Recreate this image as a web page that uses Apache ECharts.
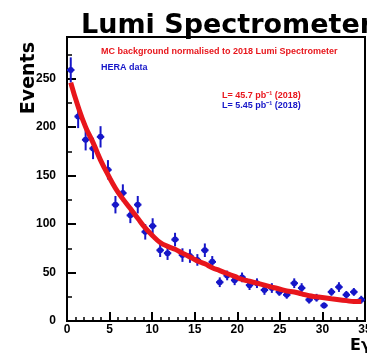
<!DOCTYPE html>
<html>
<head>
<meta charset="utf-8">
<script src="https://cdn.jsdelivr.net/npm/echarts@6/dist/echarts.min.js"></script>
<style>
  html, body { margin: 0; padding: 0; background: #fff; }
  #chart { width: 367px; height: 357px; }
</style>
</head>
<body>
<div id="chart"></div>
<script>
// bin centres (x) of the measured spectrum
const binCenters = [0.44, 1.31, 2.19, 3.06, 3.94, 4.81, 5.69, 6.56, 7.44, 8.31,
  9.19, 10.06, 10.94, 11.81, 12.69, 13.56, 14.44, 15.31, 16.19, 17.06,
  17.94, 18.81, 19.69, 20.56, 21.44, 22.31, 23.19, 24.06, 24.94, 25.81,
  26.69, 27.56, 28.44, 29.31, 30.19, 31.06, 31.94, 32.81, 33.69, 34.56];
const binHalfWidth = 0.4375;

// data (blue points) and their errors
const dataCounts = [259, 211, 187, 178, 190, 156, 120, 132, 109, 120,
  92, 98, 73, 70, 84, 68, 67, 63, 73, 61,
  40, 47, 42, 45, 37, 39, 32, 34, 30, 27,
  39, 34, 22, 24, 16, 30, 35, 27, 30, 22];
const dataErrors = [13, 12, 11, 11, 11, 10, 9, 9, 8, 9,
  8, 8, 7, 7, 7, 7, 7, 6, 7, 6,
  5, 5, 5, 5, 5, 5, 5, 5, 4, 4,
  5, 5, 4, 4, 3, 4, 5, 4, 4, 4];

// MC (red curve)
const mcCounts = [246, 221, 200, 184, 166, 151, 137, 126, 116, 106,
  96, 88, 81, 77, 74, 70, 66, 62, 59, 55,
  52, 49, 46, 43, 41, 39, 37, 35, 33, 31,
  30, 28, 26, 25, 24, 23, 22, 21, 20, 20];

const titleText = "Lumi Spectrometer";
const legendMc = "MC background normalised to 2018 Lumi Spectrometer";
const legendData = "HERA data";
const lumiMc = "L= 45.7 pb\u207B\u00B9 (2018)";
const lumiData = "L= 5.45 pb\u207B\u00B9 (2018)";
const xName = "E\u03B3";
const yName = "Events";

const RED = "#e8161c";
const BLUE = "#1616c8";

const chart = echarts.init(document.getElementById("chart"), null, { renderer: "canvas" });

function renderErrors(params, api) {
  const x = api.value(0), y = api.value(1), e = api.value(2);
  const c = api.coord([x, y]);
  const lo = api.coord([x, y - e]);
  const hi = api.coord([x, y + e]);
  const l = api.coord([x - binHalfWidth, y]);
  const r = api.coord([x + binHalfWidth, y]);
  return {
    type: "group",
    children: [
      { type: "line", shape: { x1: lo[0], y1: lo[1], x2: hi[0], y2: hi[1] }, style: { stroke: BLUE, lineWidth: 2 } },
      { type: "line", shape: { x1: l[0], y1: l[1], x2: r[0], y2: r[1] }, style: { stroke: BLUE, lineWidth: 2 } },
      { type: "circle", shape: { cx: c[0], cy: c[1], r: 3 }, style: { fill: BLUE } }
    ]
  };
}

const labelStyle = { color: "#000", fontFamily: "Liberation Sans", fontWeight: "bold", fontSize: 12 };

chart.setOption({
  backgroundColor: "#fff",
  animation: false,
  title: [
    { text: titleText, left: 76, top: 7,
      textStyle: { fontFamily: "DejaVu Sans", fontWeight: "bold", fontSize: 27, color: "#000" } },
    { text: legendMc, left: 96, top: 42,
      textStyle: { fontFamily: "Liberation Sans", fontWeight: "bold", fontSize: 9, color: RED } },
    { text: legendData, left: 96, top: 58,
      textStyle: { fontFamily: "Liberation Sans", fontWeight: "bold", fontSize: 9, color: BLUE } },
    { text: lumiMc, left: 217, top: 86,
      textStyle: { fontFamily: "Liberation Sans", fontWeight: "bold", fontSize: 9, color: RED } },
    { text: lumiData, left: 217, top: 96,
      textStyle: { fontFamily: "Liberation Sans", fontWeight: "bold", fontSize: 9, color: BLUE } }
  ],
  graphic: [
    { type: "text", x: 29, y: 42, rotation: Math.PI / 2,
      style: { text: yName, fill: "#000", fontFamily: "DejaVu Sans", fontWeight: "bold", fontSize: 19,
        textAlign: "right", textVerticalAlign: "middle" } }
  ],
  grid: { left: 67, right: 2, top: 37, bottom: 36, containLabel: false, outerBoundsMode: "none",
    show: true, borderColor: "#000", borderWidth: 2, backgroundColor: "#fff" },
  xAxis: {
    type: "value", min: 0, max: 35, interval: 5,
    name: xName, nameLocation: "end", nameGap: -15,
    nameTextStyle: { fontFamily: "DejaVu Sans", fontWeight: "bold", fontSize: 16, color: "#000",
      align: "left", verticalAlign: "top", padding: [17, 0, 0, 0] },
    axisLine: { lineStyle: { color: "#000", width: 2 } },
    axisTick: { inside: true, length: 9, lineStyle: { color: "#000", width: 2 } },
    minorTick: { show: true, splitNumber: 5, length: 4, lineStyle: { color: "#000", width: 1.5 } },
    axisLabel: Object.assign({ margin: 3 }, labelStyle),
    splitLine: { show: false }
  },
  yAxis: {
    type: "value", min: 0, max: 293, interval: 50,
    axisLine: { lineStyle: { color: "#000", width: 2 } },
    axisTick: { inside: true, length: 9, lineStyle: { color: "#000", width: 2 } },
    minorTick: { show: true, splitNumber: 2, length: 5, lineStyle: { color: "#000", width: 1.5 } },
    axisLabel: Object.assign({ margin: 11, showMaxLabel: false }, labelStyle),
    splitLine: { show: false }
  },
  series: [
    {
      name: "data", type: "custom", z: 2,
      renderItem: renderErrors,
      data: binCenters.map((x, i) => [x, dataCounts[i], dataErrors[i]])
    },
    {
      name: "MC", type: "line", z: 3, smooth: true, showSymbol: false,
      lineStyle: { color: RED, width: 5 },
      data: binCenters.map((x, i) => [x, mcCounts[i]])
    }
  ]
});
</script>
</body>
</html>
